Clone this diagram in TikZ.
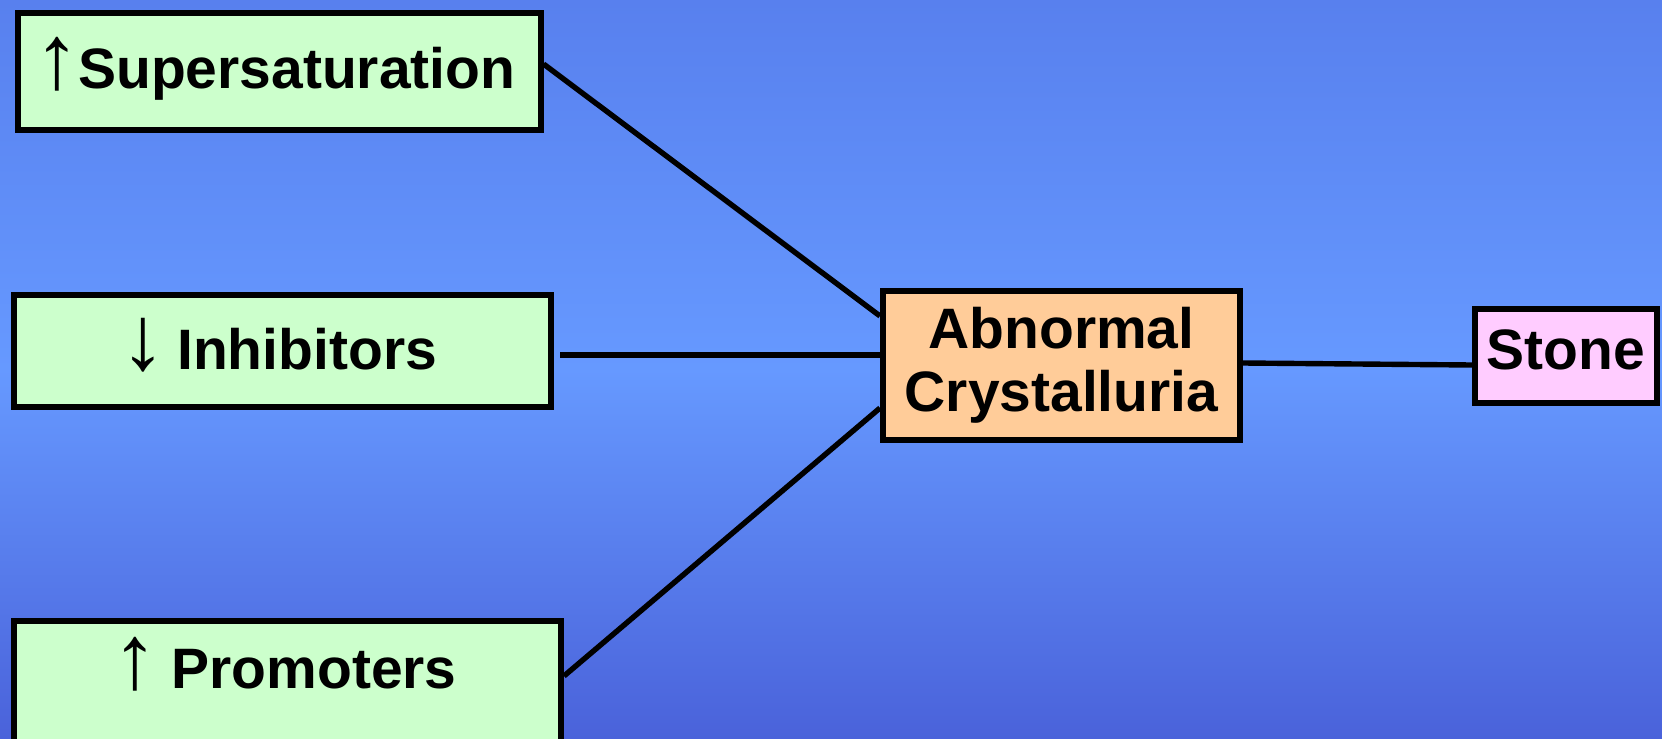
\documentclass[tikz,border=0pt]{standalone}
\usepackage{fontspec}
\setmainfont{Liberation Sans}
\usetikzlibrary{calc}
\definecolor{bgtop}{RGB}{88,128,238}
\definecolor{bgmid}{RGB}{102,153,255}
\definecolor{bgbot}{RGB}{74,98,218}
\definecolor{boxgreen}{RGB}{204,255,204}
\definecolor{boxorange}{RGB}{255,204,153}
\definecolor{boxpink}{RGB}{255,204,255}
\newcommand{\uparr}{\scalebox{1.6}{\mdseries ↑}}
\newcommand{\downarr}{\scalebox{1.6}{\mdseries ↓}}
\begin{document}
\begin{tikzpicture}[x=0.5pt,y=-0.5pt,
  box/.style={draw=black, line width=3pt, inner sep=0pt,
    font=\fontsize{28.5}{31.5}\selectfont\bfseries, align=center},
  oneline/.style={box, text height=20.4pt, text depth=0pt},
  link/.style={draw=black, line width=2.7pt}]
\useasboundingbox (0pt,0pt) rectangle (831pt,-369.5pt);
\shade[top color=bgtop, bottom color=bgbot, middle color=bgmid] (0pt,0pt) rectangle (831pt,-369.5pt);

\node[oneline, fill=boxgreen, minimum width=261.5pt, minimum height=58.5pt, text depth=3pt] (s1) at (279,71.5) {\uparr\kern-1pt Supersaturation\kern4pt};
\node[oneline, fill=boxgreen, minimum width=268.5pt, minimum height=56pt, text depth=2pt] (s2) at (282.5,351) {\downarr\hspace{0.2em}Inhibitors\kern4pt};
\node[box, fill=boxgreen, minimum width=273.5pt, inner ysep=0pt, text height=33.5pt, text depth=36pt, anchor=north] (s3) at (287.5,618) {\uparr\hspace{0.24em}Promoters\kern3pt};
\node[box, fill=boxorange, minimum width=178.5pt, minimum height=74.5pt] (ab) at (1061.5,365.5) {Abnormal\\Crystalluria};
\node[oneline, fill=boxpink, minimum width=91pt, minimum height=47pt, text depth=6.4pt] (st) at (1566,355.5) {Stone};

\draw[link] ($(s1.east)+(0,-7.5)$) -- ($(ab.west)+(0,-49.5)$);
\draw[link] ($(s2.east)+(6,4)$) -- ($(ab.west)+(0,-10.5)$);
\draw[link] ($(s3.north east)+(0,58)$) -- ($(ab.west)+(0,42.5)$);
\draw[link] ($(ab.east)+(0,-2.5)$) -- ($(st.west)+(0,9.5)$);
\end{tikzpicture}
\end{document}
